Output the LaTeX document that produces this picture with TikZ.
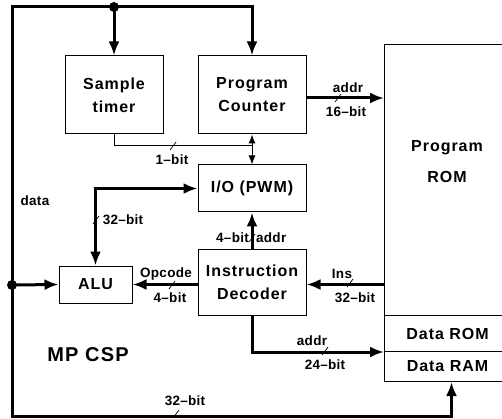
\documentclass[tikz,border=0pt]{standalone}
\usepackage{fontspec}
\setmainfont{Liberation Sans}
\newfontfamily\boxfont[LetterSpace=6]{Liberation Sans}
\newfontfamily\lblfont[LetterSpace=2]{Liberation Sans}
\usetikzlibrary{arrows.meta,calc}
\tikzset{
  box/.style={draw, line width=1pt, inner sep=0pt, align=center,
    font=\boxfont\bfseries\fontsize{16}{23}\selectfont},
  boxtxt/.style={inner sep=0pt, align=center,
    font=\boxfont\bfseries\fontsize{16}{31}\selectfont},
  lbl/.style={inner sep=0pt, font=\lblfont\bfseries\fontsize{13.5}{15}\selectfont},
  bus/.style={line width=3pt},
  busarrow/.style={line width=3pt, -{Latex[length=14pt,width=11pt]}},
  bothbus/.style={line width=3pt, {Latex[length=14pt,width=11pt]}-{Latex[length=14pt,width=11pt]}},
  thinline/.style={line width=1pt},
  thinboth/.style={line width=1pt, {Latex[length=9pt,width=7pt]}-{Latex[length=9pt,width=7pt]}},
  bitmark/.pic={\draw[line width=0.7pt] (-3,4) -- (3,-4);}
}
\begin{document}
\begin{tikzpicture}[x=1pt,y=-1pt]
\useasboundingbox (0,0) rectangle (502,419);
% boxes
\node[box, minimum width=98, minimum height=78] (st) at (114,95) {Sample\\timer};
\node[box, minimum width=108, minimum height=78] (pc) at (252,95) {Program\\Counter};
\node[box, minimum width=108, minimum height=47] (io) at (252,188.5) {I/O (PWM)};
\node[box, minimum width=108, minimum height=66] (id) at (252,282) {Instruction\\Decoder};
\node[box, minimum width=73, minimum height=37] (alu) at (95.5,284.5) {ALU};
\node[box, minimum width=126, minimum height=271, anchor=north west] (rom) at (384,44) {};
\node[boxtxt] (romtxt) at (447,162) {Program\\ROM};
\node[box, minimum width=126, minimum height=36, anchor=north west] (drom) at (384,315) {Data ROM};
\node[box, minimum width=126, minimum height=30, anchor=north west] (dram) at (384,351) {Data RAM};
% bus coordinates
\coordinate (topdot) at (114,7);
\coordinate (leftdot) at (12,285);
\coordinate (botleft) at (12,416);
\coordinate (j1) at (252,146);
% buses
\draw[bus] (topdot) -| (leftdot);
\draw[busarrow] (topdot) -- (st.north);
\draw[busarrow] (topdot) -| (pc.north);
\draw[busarrow] (leftdot) -- (alu.west);
\draw[busarrow] (leftdot) -- (botleft) -| ([xshift=4pt]dram.south);
\fill (topdot) circle (5pt);
\fill (leftdot) circle (5pt);
% connectors
\draw[thinline] (st.south) |- (j1);
\draw[thinboth] (pc.south) -- (io.north);
\draw[bothbus] (alu.north) |- (io.west);
\draw[busarrow] (id.north) -- (io.south);
\draw[busarrow] (id.west |- alu.east) -- (alu.east);
\draw[busarrow] (rom.west |- alu.east) -- (alu.east -| id.east);
\draw[busarrow] ([yshift=-3pt]pc.east) -- ([yshift=-3pt]pc.east -| rom.west);
\draw[busarrow] (id.south) |- (drom.south west);
% width marks and labels
\pic at (338,98) {bitmark};
\node[lbl] (l1) at (348,88) {addr};
\node[lbl] (l2) at (346,112) {16\textendash bit};
\pic at (173,146) {bitmark};
\node[lbl] (l3) at (172,160) {1\textendash bit};
\pic at (96,220) {bitmark};
\node[lbl] (l4) at (123,220) {32\textendash bit};
\pic at (252,238) {bitmark};
\node[lbl, anchor=east] (l5) at (249,238) {4\textendash bit};
\node[lbl, anchor=west] (l6) at (256,238) {addr};
\pic at (172,285) {bitmark};
\node[lbl] (l7) at (166,274) {Opcode};
\node[lbl] (l8) at (170,298) {4\textendash bit};
\pic at (350,283) {bitmark};
\node[lbl] (l9) at (342,274) {Ins};
\node[lbl] (l10) at (355,298) {32\textendash bit};
\pic at (325,351) {bitmark};
\node[lbl] (l11) at (312,341) {addr};
\node[lbl] (l12) at (325,365) {24\textendash bit};
\pic at (176,414) {bitmark};
\node[lbl] (l13) at (185,401) {32\textendash bit};
\node[lbl] (l14) at (35,201) {data};
\node[inner sep=0pt, font=\boxfont\bfseries\fontsize{20}{24}\selectfont] (mp) at (88,355) {MP CSP};
\end{tikzpicture}
\end{document}
